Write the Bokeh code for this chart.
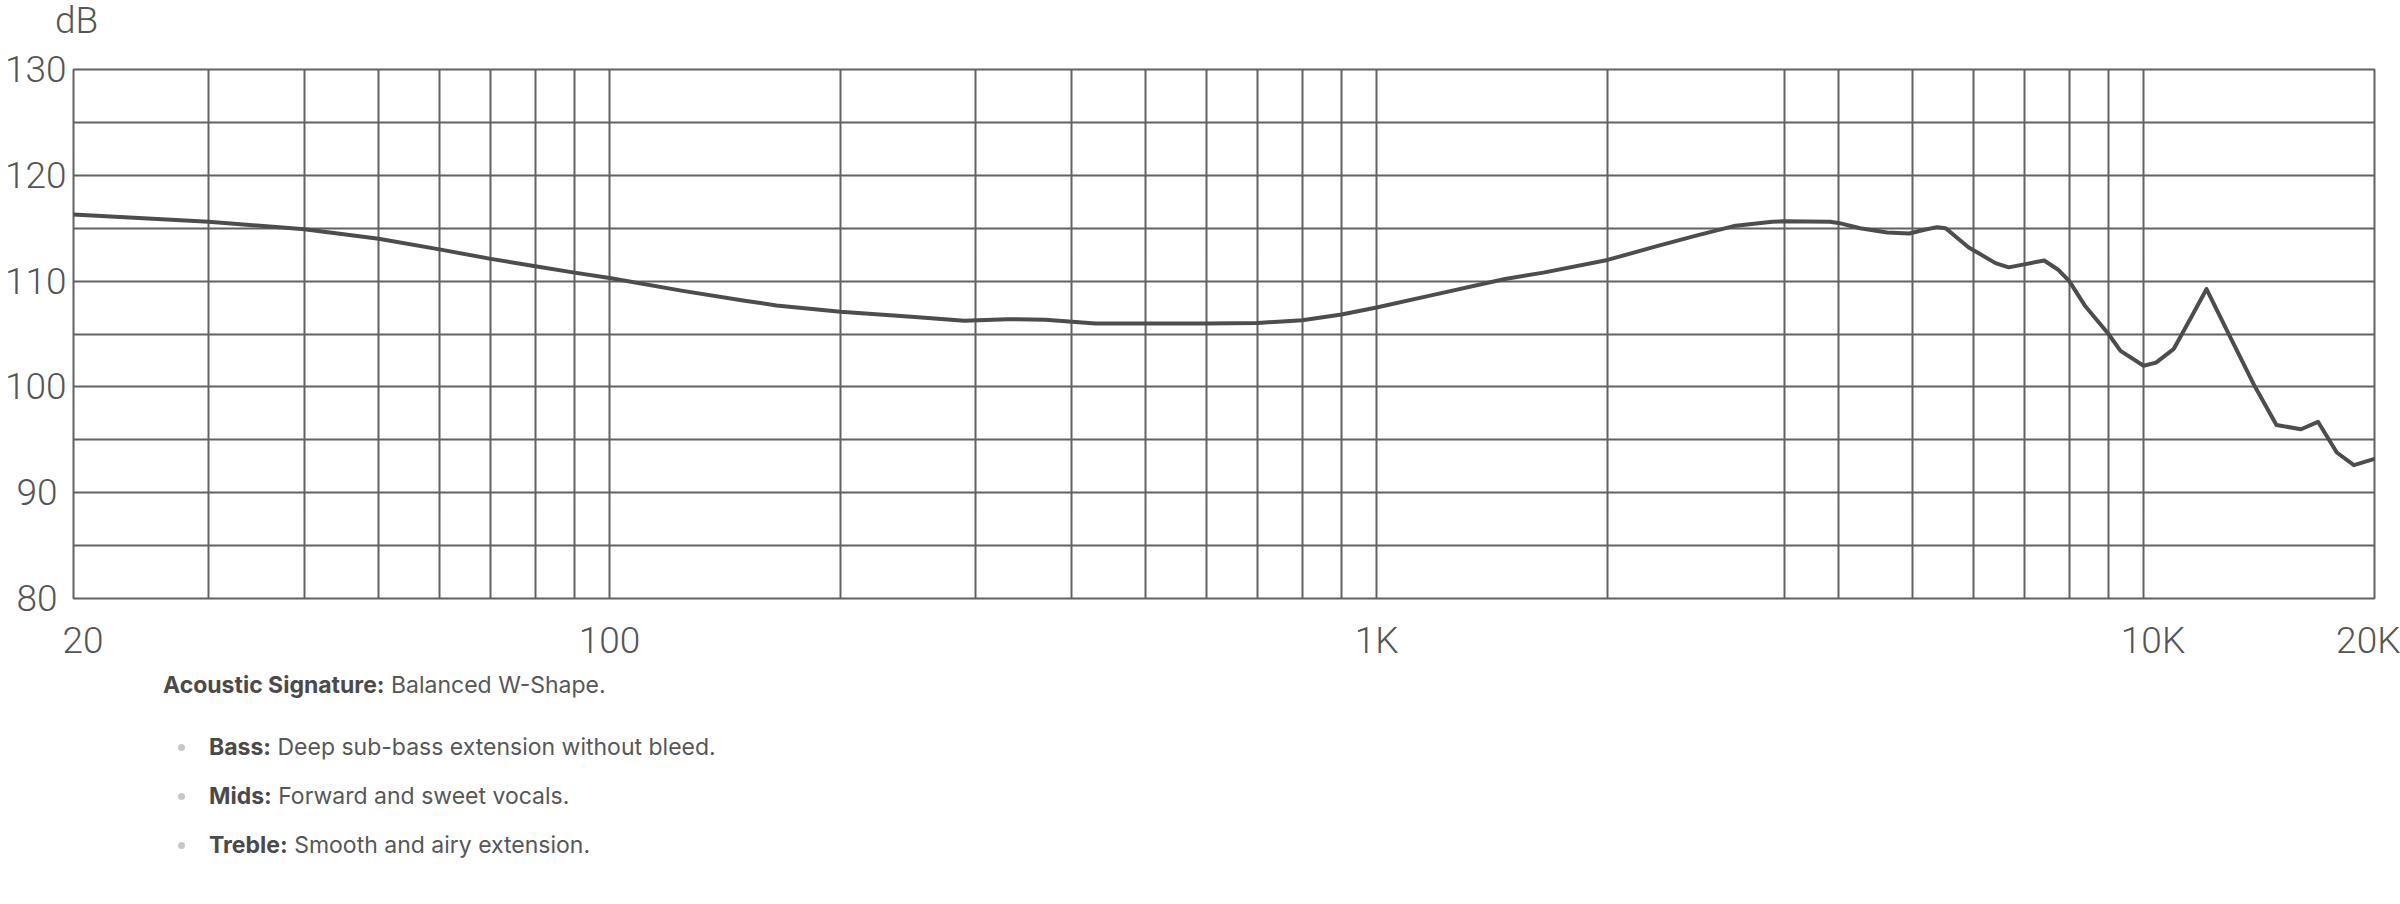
from bokeh.plotting import figure
from bokeh.models import Range1d, FixedTicker, Div
from bokeh.layouts import column
from bokeh.embed import file_html
from bokeh.resources import INLINE

# ---- data ----
freq_hz = [20, 30, 40, 50, 60, 70, 80, 90, 100, 124, 150, 165, 200, 250, 290, 330, 370, 430, 500,
           600, 700, 800, 900, 1000, 1170, 1470, 1650, 2000, 2320, 2610, 2920, 3280, 3400,
           3900, 4000, 4270, 4630, 4950, 5180, 5380, 5520, 5910, 6410, 6670, 7420, 7730, 8000, 8380,
           9000, 9330, 10000, 10380, 10950, 11560, 12080, 12870, 13950, 14900, 16040, 16880, 17860, 18800, 20000]
spl_db = [116.3, 115.6, 114.9, 114.0, 113.0, 112.1, 111.4, 110.8, 110.3, 109.1, 108.15, 107.7, 107.1, 106.6,
          106.25, 106.4, 106.35, 106.0, 106.0, 106.0, 106.05, 106.3, 106.85, 107.5, 108.6, 110.2, 110.8, 112.0,
          113.3, 114.3, 115.2, 115.6, 115.66, 115.6, 115.5, 115.0, 114.6, 114.5, 114.85, 115.1, 115.0, 113.2,
          111.7, 111.3, 111.95, 111.1, 110.0, 107.7, 105.0, 103.4, 102.0, 102.3, 103.6, 106.7, 109.25, 105.2,
          100.1, 96.4, 96.0, 96.7, 93.8, 92.6, 93.2]

x_grid_freqs = [30, 40, 50, 60, 70, 80, 90, 100, 200, 300, 400, 500, 600, 700, 800, 900, 1000,
                2000, 3400, 4000, 5000, 6000, 7000, 8000, 9000, 10000]
y_grid_db = [80, 85, 90, 95, 100, 105, 110, 115, 120, 125, 130]

x_tick_values = [20, 100, 1000, 10000, 20000]
x_tick_labels = ["20", "100", "1K", "10K", "20K"]
y_tick_values = [80, 90, 100, 110, 120, 130]
y_tick_labels = ["80", "90", "100", "110", "120", "130"]
y_unit = "dB"

# ---- styles ----
GRID = "#626262"
CURVE = "#4d4d4d"
LABEL_COLOR = "#555555"
TICK_FONT = "Roboto Light"
FS = "37px"
EN = "\u2002"
NBSP = "\u00a0"
# whitespace padding used only to nudge label placement like the reference
x_pad = {"20": (EN, ""), "10K": (EN, "")}
y_pad = {"80": NBSP, "90": NBSP}

head = Div(text=(f'<div style="font-family:\'{TICK_FONT}\',Roboto,sans-serif;font-weight:300;font-size:37px;'
                 f'color:{LABEL_COLOR};line-height:40px;height:40px;padding:1px 0 0 55px;margin:0;">{y_unit}</div>'),
           width=2400, height=40, margin=0)

p = figure(width=2400, height=624, x_axis_type="log",
           x_range=Range1d(20, 20000), y_range=Range1d(80, 130),
           output_backend="svg", toolbar_location=None,
           min_border_left=73, min_border_right=26, min_border_top=29, min_border_bottom=64)
p.background_fill_color = "white"
p.border_fill_color = "white"
p.outline_line_color = GRID
p.outline_line_width = 2

p.xgrid.ticker = FixedTicker(ticks=x_grid_freqs)
p.ygrid.ticker = FixedTicker(ticks=y_grid_db)
for g in (p.xgrid, p.ygrid):
    g.grid_line_color = GRID
    g.grid_line_width = 2
    g.grid_line_alpha = 1.0

for ax in (p.xaxis[0], p.yaxis[0]):
    ax.axis_line_color = None
    ax.major_tick_line_color = None
    ax.minor_tick_line_color = None
    ax.major_label_text_font = TICK_FONT
    ax.major_label_text_font_size = FS
    ax.major_label_text_color = LABEL_COLOR

p.xaxis.ticker = FixedTicker(ticks=x_tick_values)
p.xaxis.major_label_overrides = {v: x_pad.get(t, ("", ""))[0] + t + x_pad.get(t, ("", ""))[1]
                                 for v, t in zip(x_tick_values, x_tick_labels)}
p.xaxis.major_label_standoff = 14

p.yaxis.ticker = FixedTicker(ticks=y_tick_values)
p.yaxis.major_label_overrides = {v: t + y_pad.get(t, "") for v, t in zip(y_tick_values, y_tick_labels)}
p.yaxis.major_label_standoff = 1

p.line(freq_hz, spl_db, line_color=CURVE, line_width=4, line_join="round", line_cap="round")

bullets = [("Bass:", "Deep sub-bass extension without bleed."),
           ("Mids:", "Forward and sweet vocals."),
           ("Treble:", "Smooth and airy extension.")]
items = "".join(
    '<li style="position:relative;padding-left:46px;line-height:49px;height:49px;">'
    '<span style="position:absolute;left:15px;top:21px;width:7px;height:7px;border-radius:50%;background:#c8c8c8;"></span>'
    f'<b style="font-weight:700;color:#4a4a4a;">{k}</b> {v}</li>' for k, v in bullets)
html = ('<div style="font-family:Inter,\'Noto Sans\',sans-serif;font-size:23px;color:#575757;'
        'padding:6px 0 0 163px;margin:0;">'
        '<div style="line-height:30px;height:30px;"><b style="font-weight:700;color:#4a4a4a;">Acoustic Signature:</b> Balanced W-Shape.</div>'
        f'<ul style="list-style:none;margin:23px 0 0 0;padding:0;">{items}</ul></div>')
notes = Div(text=html, width=2400, height=200, margin=0)

layout = column(head, p, notes, spacing=0)
open("out.html", "w").write(file_html(layout, INLINE))
